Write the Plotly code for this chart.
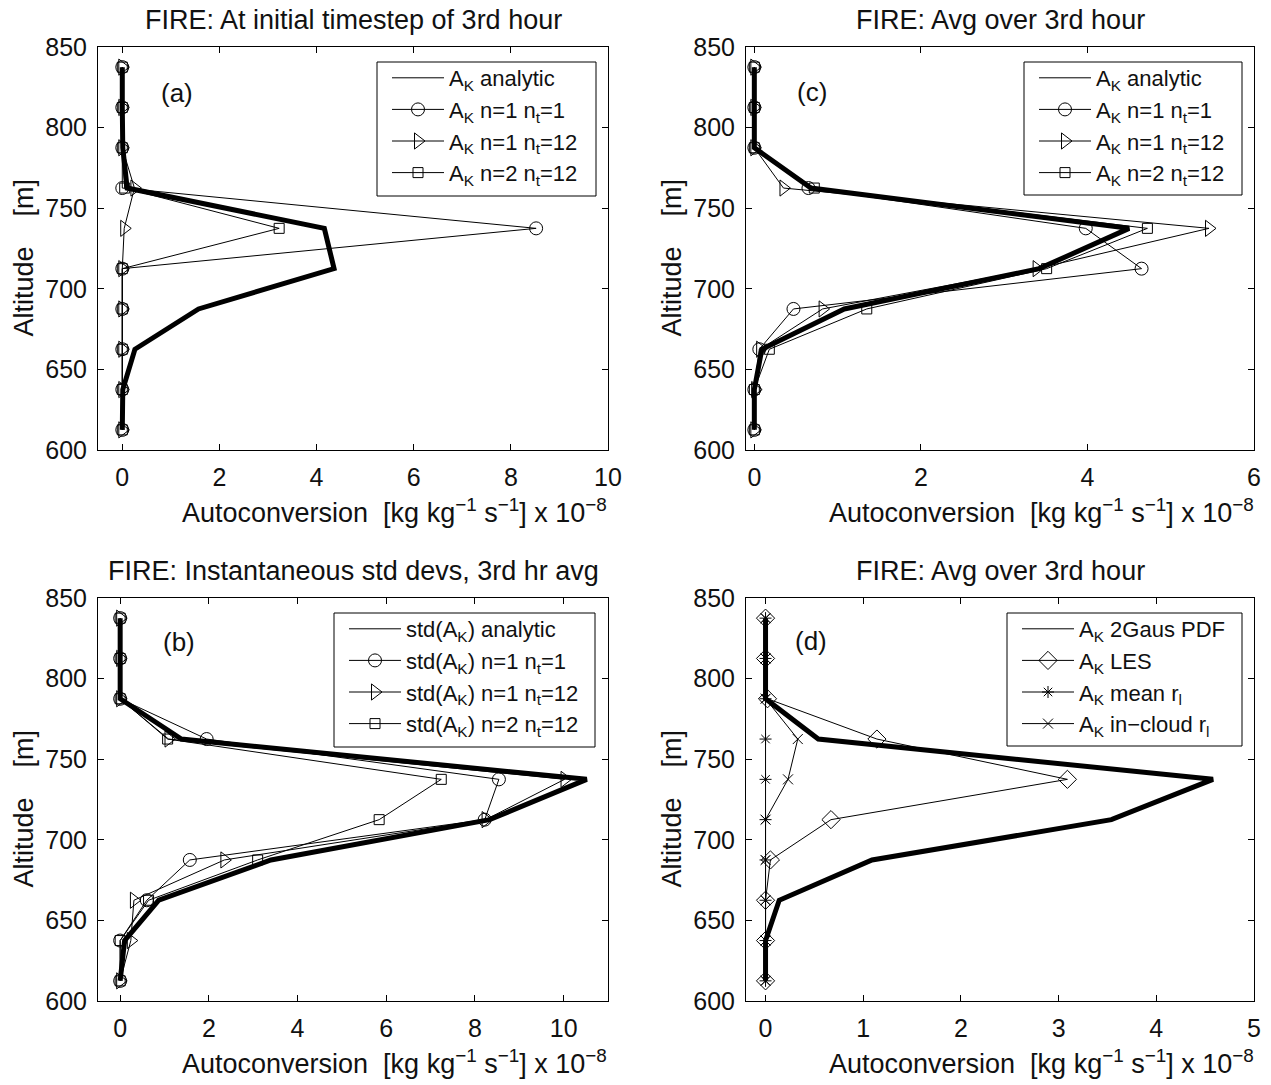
import plotly.graph_objects as go

# ---------------- data ----------------
altitude = [612.5, 637.5, 662.5, 687.5, 712.5, 737.5, 762.5, 787.5, 812.5, 837.5]

# panel (a): at initial timestep of 3rd hour
a_analytic = [0.0, 0.01, 0.26, 1.57, 4.36, 4.16, 0.10, 0.01, 0.0, 0.0]
a_n1_nt1 = [0.0, 0.0, 0.0, 0.0, 0.0, 8.52, 0.0, 0.0, 0.0, 0.0]
a_n1_nt12 = [0.0, 0.0, 0.0, 0.0, 0.0, 0.04, 0.25, 0.0, 0.0, 0.0]
a_n2_nt12 = [0.0, 0.0, 0.0, 0.0, 0.0, 3.23, 0.05, 0.0, 0.0, 0.0]

# panel (c): avg over 3rd hour
c_analytic = [0.0, 0.0, 0.09, 1.08, 3.42, 4.50, 0.68, 0.0, 0.0, 0.0]
c_n1_nt1 = [0.0, 0.0, 0.06, 0.47, 4.65, 3.98, 0.65, 0.0, 0.0, 0.0]
c_n1_nt12 = [0.0, 0.01, 0.07, 0.82, 3.39, 5.46, 0.35, 0.0, 0.0, 0.0]
c_n2_nt12 = [0.0, 0.0, 0.18, 1.35, 3.51, 4.72, 0.72, 0.0, 0.0, 0.0]

# panel (b): instantaneous std devs
b_analytic = [0.0, 0.10, 0.87, 3.40, 8.33, 10.52, 1.38, 0.0, 0.0, 0.0]
b_n1_nt1 = [0.0, 0.0, 0.60, 1.57, 8.22, 8.54, 1.95, 0.0, 0.0, 0.0]
b_n1_nt12 = [0.0, 0.24, 0.31, 2.35, 8.24, 10.02, 1.09, 0.0, 0.0, 0.0]
b_n2_nt12 = [0.0, 0.0, 0.64, 3.10, 5.84, 7.24, 1.07, 0.0, 0.0, 0.0]

# panel (d): avg over 3rd hour, comparison
d_2gaus = [0.0, 0.0, 0.14, 1.09, 3.54, 4.58, 0.54, 0.0, 0.0, 0.0]
d_les = [0.0, 0.0, 0.0, 0.05, 0.67, 3.09, 1.14, 0.02, 0.0, 0.0]
d_mean_rl = [0.0, 0.0, 0.0, 0.0, 0.0, 0.0, 0.0, 0.0, 0.0, 0.0]
d_incloud_rl = [0.0, 0.0, 0.0, 0.0, 0.0, 0.23, 0.33, 0.0, 0.0, 0.0]

titles = ["FIRE: At initial timestep of 3rd hour", "FIRE: Avg over 3rd hour",
          "FIRE: Instantaneous std devs, 3rd hr avg", "FIRE: Avg over 3rd hour"]
panel_labels = ["(a)", "(c)", "(b)", "(d)"]
x_ranges = [[-0.5, 10], [-0.1, 6], [-0.5, 11], [-0.2, 5]]
x_ticks = [[0, 2, 4, 6, 8, 10], [0, 2, 4, 6], [0, 2, 4, 6, 8, 10], [0, 1, 2, 3, 4, 5]]
y_ticks = [600, 650, 700, 750, 800, 850]

AK = "A<sub>K</sub>"
SAK = "std(A<sub>K</sub>)"
names_ac = [AK + " analytic", AK + " n=1 n<sub>t</sub>=1", AK + " n=1 n<sub>t</sub>=12", AK + " n=2 n<sub>t</sub>=12"]
names_b = [SAK + " analytic", SAK + " n=1 n<sub>t</sub>=1", SAK + " n=1 n<sub>t</sub>=12", SAK + " n=2 n<sub>t</sub>=12"]
names_d = [AK + " 2Gaus PDF", AK + " LES", AK + " mean r<sub>l</sub>", AK + " in\u2212cloud r<sub>l</sub>"]

# ---------------- layout geometry (pixels) ----------------
W, H = 1271, 1085
FONT = "Liberation Sans, Arial, Helvetica, sans-serif"
TXT = "#111"


def fx(px):
    return px / W


def fy(py):
    return 1 - py / H


col_px = [(98, 608), (746, 1254)]
row_px = [(47, 450), (598, 1001)]
# order: (a) top-left, (c) top-right, (b) bottom-left, (d) bottom-right
panel_pos = [(0, 0), (1, 0), (0, 1), (1, 1)]
legend_box = [(377, 596, 62, 196), (1024, 1242, 62, 195), (334, 595, 613, 747), (1007, 1242, 613, 746)]
label_pos = [(177, 93), (812, 92), (179, 642), (811, 641)]

fig = go.Figure()

panels = [
    (a_analytic, [a_n1_nt1, a_n1_nt12, a_n2_nt12], names_ac,
     ["circle-open", "triangle-right-open", "square-open"], [13, 14, 10]),
    (c_analytic, [c_n1_nt1, c_n1_nt12, c_n2_nt12], names_ac,
     ["circle-open", "triangle-right-open", "square-open"], [13, 14, 10]),
    (b_analytic, [b_n1_nt1, b_n1_nt12, b_n2_nt12], names_b,
     ["circle-open", "triangle-right-open", "square-open"], [13, 14, 10]),
    (d_2gaus, [d_les, d_mean_rl, d_incloud_rl], names_d,
     ["diamond-open", "asterisk-open", "x-thin-open"], [14, 10, 10]),
]

annotations = []
shapes = []
for i, (thick, others, names, symbols, sizes) in enumerate(panels):
    n = i + 1
    xa = "x" if n == 1 else f"x{n}"
    ya = "y" if n == 1 else f"y{n}"
    lg = "legend" if n == 1 else f"legend{n}"
    # thick analytic line
    fig.add_trace(go.Scatter(x=thick, y=altitude, xaxis=xa, yaxis=ya, mode="lines",
                             line=dict(color="black", width=5), showlegend=False,
                             hoverinfo="x+y"))
    # legend entry for analytic (drawn thin in the legend, as in the reference)
    fig.add_trace(go.Scatter(x=[None], y=[None], xaxis=xa, yaxis=ya, mode="lines",
                             line=dict(color="black", width=1), name=names[0],
                             legend=lg, showlegend=True))
    for vals, nm, sym, sz in zip(others, names[1:], symbols, sizes):
        fig.add_trace(go.Scatter(x=vals, y=altitude, xaxis=xa, yaxis=ya, mode="lines+markers",
                                 line=dict(color="black", width=1),
                                 marker=dict(symbol=sym, size=sz, color="black",
                                             line=dict(color="black", width=1)),
                                 name=nm, legend=lg))

    c, r = panel_pos[i]
    x0, x1 = col_px[c]
    y0, y1 = row_px[r]
    axis_common = dict(showline=True, linecolor="black", linewidth=1, mirror="ticks",
                       ticks="inside", ticklen=6, tickwidth=1, tickcolor="black",
                       showgrid=False, zeroline=False, automargin=False,
                       tickfont=dict(family=FONT, size=25, color=TXT))
    bx0, bx1, by0, by1 = legend_box[i]
    fig.update_layout(**{
        ("xaxis" if n == 1 else f"xaxis{n}"): dict(
            domain=[fx(x0), fx(x1)], range=x_ranges[i], tickvals=x_ticks[i],
            anchor=ya, ticklabelstandoff=5, **axis_common),
        ("yaxis" if n == 1 else f"yaxis{n}"): dict(
            domain=[fy(y1), fy(y0)], range=[600, 850], tickvals=y_ticks,
            anchor=xa, ticklabelstandoff=5, **axis_common),
        lg: dict(x=fx(bx0 + 10), y=fy(by0 - 5), xanchor="left", yanchor="top",
                 xref="paper", yref="paper",
                 bgcolor="rgba(0,0,0,0)", borderwidth=0,
                 font=dict(family=FONT, size=22, color=TXT),
                 itemwidth=52, tracegroupgap=0, traceorder="normal"),
    })
    # legend frame
    shapes.append(dict(type="rect", xref="paper", yref="paper",
                       x0=fx(bx0), x1=fx(bx1), y0=fy(by1), y1=fy(by0),
                       line=dict(color="black", width=1), fillcolor="white", layer="above"))

    cx = (x0 + x1) / 2
    # title
    annotations.append(dict(text=titles[i], x=fx(cx), y=fy(y0 - 27), xref="paper", yref="paper",
                            showarrow=False, xanchor="center", yanchor="middle",
                            font=dict(family=FONT, size=27, color=TXT)))
    # x-axis title
    annotations.append(dict(
        text="Autoconversion\u00a0\u00a0[kg kg<sup>\u22121</sup> s<sup>\u22121</sup>] x 10<sup>\u22128</sup>",
        x=fx(cx + 41), y=fy(y1 + 61), xref="paper", yref="paper", showarrow=False,
        xanchor="center", yanchor="middle", font=dict(family=FONT, size=27, color=TXT)))
    # y-axis title
    annotations.append(dict(text="Altitude\u00a0\u00a0\u00a0\u00a0[m]",
                            x=fx(x0 - 75), y=fy((y0 + y1) / 2 + 9), xref="paper", yref="paper",
                            showarrow=False, textangle=-90, xanchor="center", yanchor="middle",
                            font=dict(family=FONT, size=27, color=TXT)))
    # panel label
    lx, ly = label_pos[i]
    annotations.append(dict(text=panel_labels[i], x=fx(lx), y=fy(ly),
                            xref="paper", yref="paper", showarrow=False,
                            xanchor="center", yanchor="middle",
                            font=dict(family=FONT, size=26, color=TXT)))

fig.update_layout(width=W, height=H, margin=dict(l=0, r=0, t=0, b=0, autoexpand=False),
                  paper_bgcolor="white", plot_bgcolor="white",
                  annotations=annotations, shapes=shapes,
                  font=dict(family=FONT, color=TXT))

fig.write_html("out.html", config={"displayModeBar": False},
               post_script="document.body.style.margin='0';document.body.style.overflow='hidden';")
